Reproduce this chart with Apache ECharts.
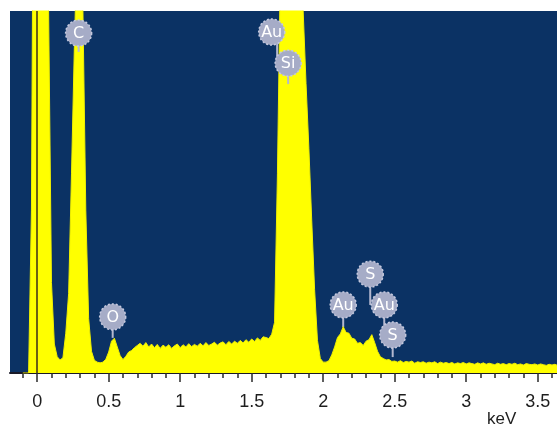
<!DOCTYPE html>
<html>
<head>
<meta charset="utf-8">
<script src="https://cdn.jsdelivr.net/npm/echarts@6/dist/echarts.min.js"></script>
<style>
html,body{margin:0;padding:0;background:#fff;}
#chart{width:557px;height:430px;}
</style>
</head>
<body>
<div id="chart"></div>
<script>
// Spectrum channel calibration (keV)
const energyStart = -0.10;
const energyStep = 0.02;
// Counts, one per channel (axis top = 1000, off-scale peaks above)
const counts = [
  0, 0, 0, 450, 2000, 3000, 3000, 2500, 1600, 1000,
  250, 80, 45, 36, 42, 110, 220, 550, 900, 1200,
  1350, 1000, 450, 150, 60, 35, 30, 28, 30, 38,
  58, 88, 96, 72, 48, 37, 46, 58, 62, 70,
  76, 82, 74, 84, 72, 80, 70, 79, 68, 77,
  71, 78, 68, 75, 80, 70, 78, 72, 81, 73,
  79, 74, 82, 75, 84, 76, 80, 85, 77, 83,
  86, 78, 87, 80, 88, 82, 90, 83, 92, 85,
  94, 87, 97, 90, 100, 98, 95, 107, 140, 550,
  1100, 3000, 3000, 3000, 3000, 3000, 3000, 3000, 1000, 800,
  620, 420, 230, 90, 40, 30, 30, 34, 50, 72,
  98, 108, 128, 112, 110, 96, 94, 82, 84, 76,
  88, 92, 106, 84, 60, 45, 40, 36, 37, 32,
  33, 30, 34, 29, 32, 30, 33, 27, 31, 29,
  31, 27, 30, 28, 31, 26, 30, 27, 29, 26,
  29, 25, 28, 26, 29, 25, 28, 26, 24, 28,
  25, 28, 24, 27, 25, 23, 27, 24, 26, 23,
  26, 24, 27, 23, 25, 22, 26, 24, 23, 25,
  22, 25, 23, 21, 24, 22, 24, 21
];
// Axis tick labels
const majorTicks = [0, 0.5, 1, 1.5, 2, 2.5, 3, 3.5];
const minorTicks = [-0.1, 0.1, 0.2, 0.3, 0.4, 0.6, 0.7, 0.8, 0.9, 1.1, 1.2, 1.3, 1.4, 1.6, 1.7, 1.8, 1.9,
  2.1, 2.2, 2.3, 2.4, 2.6, 2.7, 2.8, 2.9, 3.1, 3.2, 3.3, 3.4, 3.6];
const axisUnit = 'keV';
// Element markers
const badgeLabels = ['C', 'Au', 'Si', 'O', 'S', 'Au', 'Au', 'S'];
const badgeEnergy = [0.290, 1.640, 1.755, 0.528, 2.329, 2.140, 2.427, 2.486];
const badgeCount  = [939, 942, 856, 155, 273, 188, 188, 105];
const stemEnergy  = [0.290, 1.678, 1.755, 0.528, 2.329, 2.140, 2.427, 2.486];
const stemEndCount = [887, 856, 798, 97, 188, 127, 105, 44];

const spectrum = counts.map((c, i) => [+(energyStart + i * energyStep).toFixed(3), c]);
const badgeData = badgeLabels.map((l, i) => [badgeEnergy[i], badgeCount[i], l]);
const stemData = badgeLabels.map((l, i) => [stemEnergy[i], badgeCount[i], stemEndCount[i]]);

const chart = echarts.init(document.getElementById('chart'), null, {renderer: 'canvas'});
const xMin = -0.19, xMax = 3.635;
chart.setOption({
  animation: false,
  backgroundColor: '#ffffff',
  grid: {left: 10, right: 0, top: 11, bottom: 57, show: true, backgroundColor: '#0b3264', borderWidth: 0},
  xAxis: [{
    type: 'value', min: xMin, max: xMax, position: 'bottom',
    splitLine: {show: false},
    axisLine: {show: true, onZero: false, lineStyle: {color: '#1a1a28', width: 2}},
    axisTick: {show: true, customValues: majorTicks, length: 9, lineStyle: {color: '#2a2a2a', width: 1.5}},
    axisLabel: {show: true, customValues: majorTicks, margin: 20, fontSize: 18, color: '#1e1e1e',
      fontFamily: 'Liberation Sans, Arial, sans-serif', formatter: v => String(v)}
  }, {
    type: 'value', min: xMin, max: xMax, position: 'bottom',
    splitLine: {show: false},
    axisLine: {show: false, onZero: false},
    axisTick: {show: true, customValues: minorTicks, length: 5, lineStyle: {color: '#2a2a2a', width: 1.5}},
    axisLabel: {show: false}
  }],
  yAxis: {type: 'value', min: 0, max: 1000, show: false, splitLine: {show: false}},
  graphic: [{
    type: 'text', left: 487, top: 411,
    style: {text: axisUnit, fontSize: 17, fill: '#1e1e1e', fontFamily: 'Liberation Sans, Arial, sans-serif'}
  }],
  series: [{
    type: 'line', xAxisIndex: 0, data: spectrum, showSymbol: false, smooth: false, clip: true,
    lineStyle: {color: '#f0f000', width: 1},
    areaStyle: {color: '#ffff00', opacity: 1},
    markLine: {silent: true, symbol: 'none', label: {show: false},
      lineStyle: {color: '#3a2c18', width: 1.5, type: 'solid'}, data: [{xAxis: 0}]}
  }, {
    type: 'custom', xAxisIndex: 0, data: stemData, z: 3, clip: false,
    renderItem: function (params, api) {
      const a = api.coord([api.value(0), api.value(1)]);
      const b = api.coord([api.value(0), api.value(2)]);
      return {type: 'line', shape: {x1: a[0], y1: a[1], x2: b[0], y2: b[1]},
        style: {stroke: '#b4b8cf', lineWidth: 2}};
    }
  }, {
    type: 'custom', xAxisIndex: 0, data: badgeData, z: 4, clip: false,
    renderItem: function (params, api) {
      const c = api.coord([api.value(0), api.value(1)]);
      return {type: 'group', children: [
        {type: 'circle', shape: {cx: c[0], cy: c[1], r: 13},
          style: {fill: '#a6acc7', stroke: '#c5c9de', lineWidth: 1.5, lineDash: [2, 2]}},
        {type: 'text', style: {text: badgeLabels[params.dataIndex], x: c[0], y: c[1] + 1,
          align: 'center', verticalAlign: 'middle', fill: '#ffffff', fontSize: 16,
          fontFamily: 'DejaVu Sans, sans-serif'}}
      ]};
    }
  }]
});
</script>
</body>
</html>
